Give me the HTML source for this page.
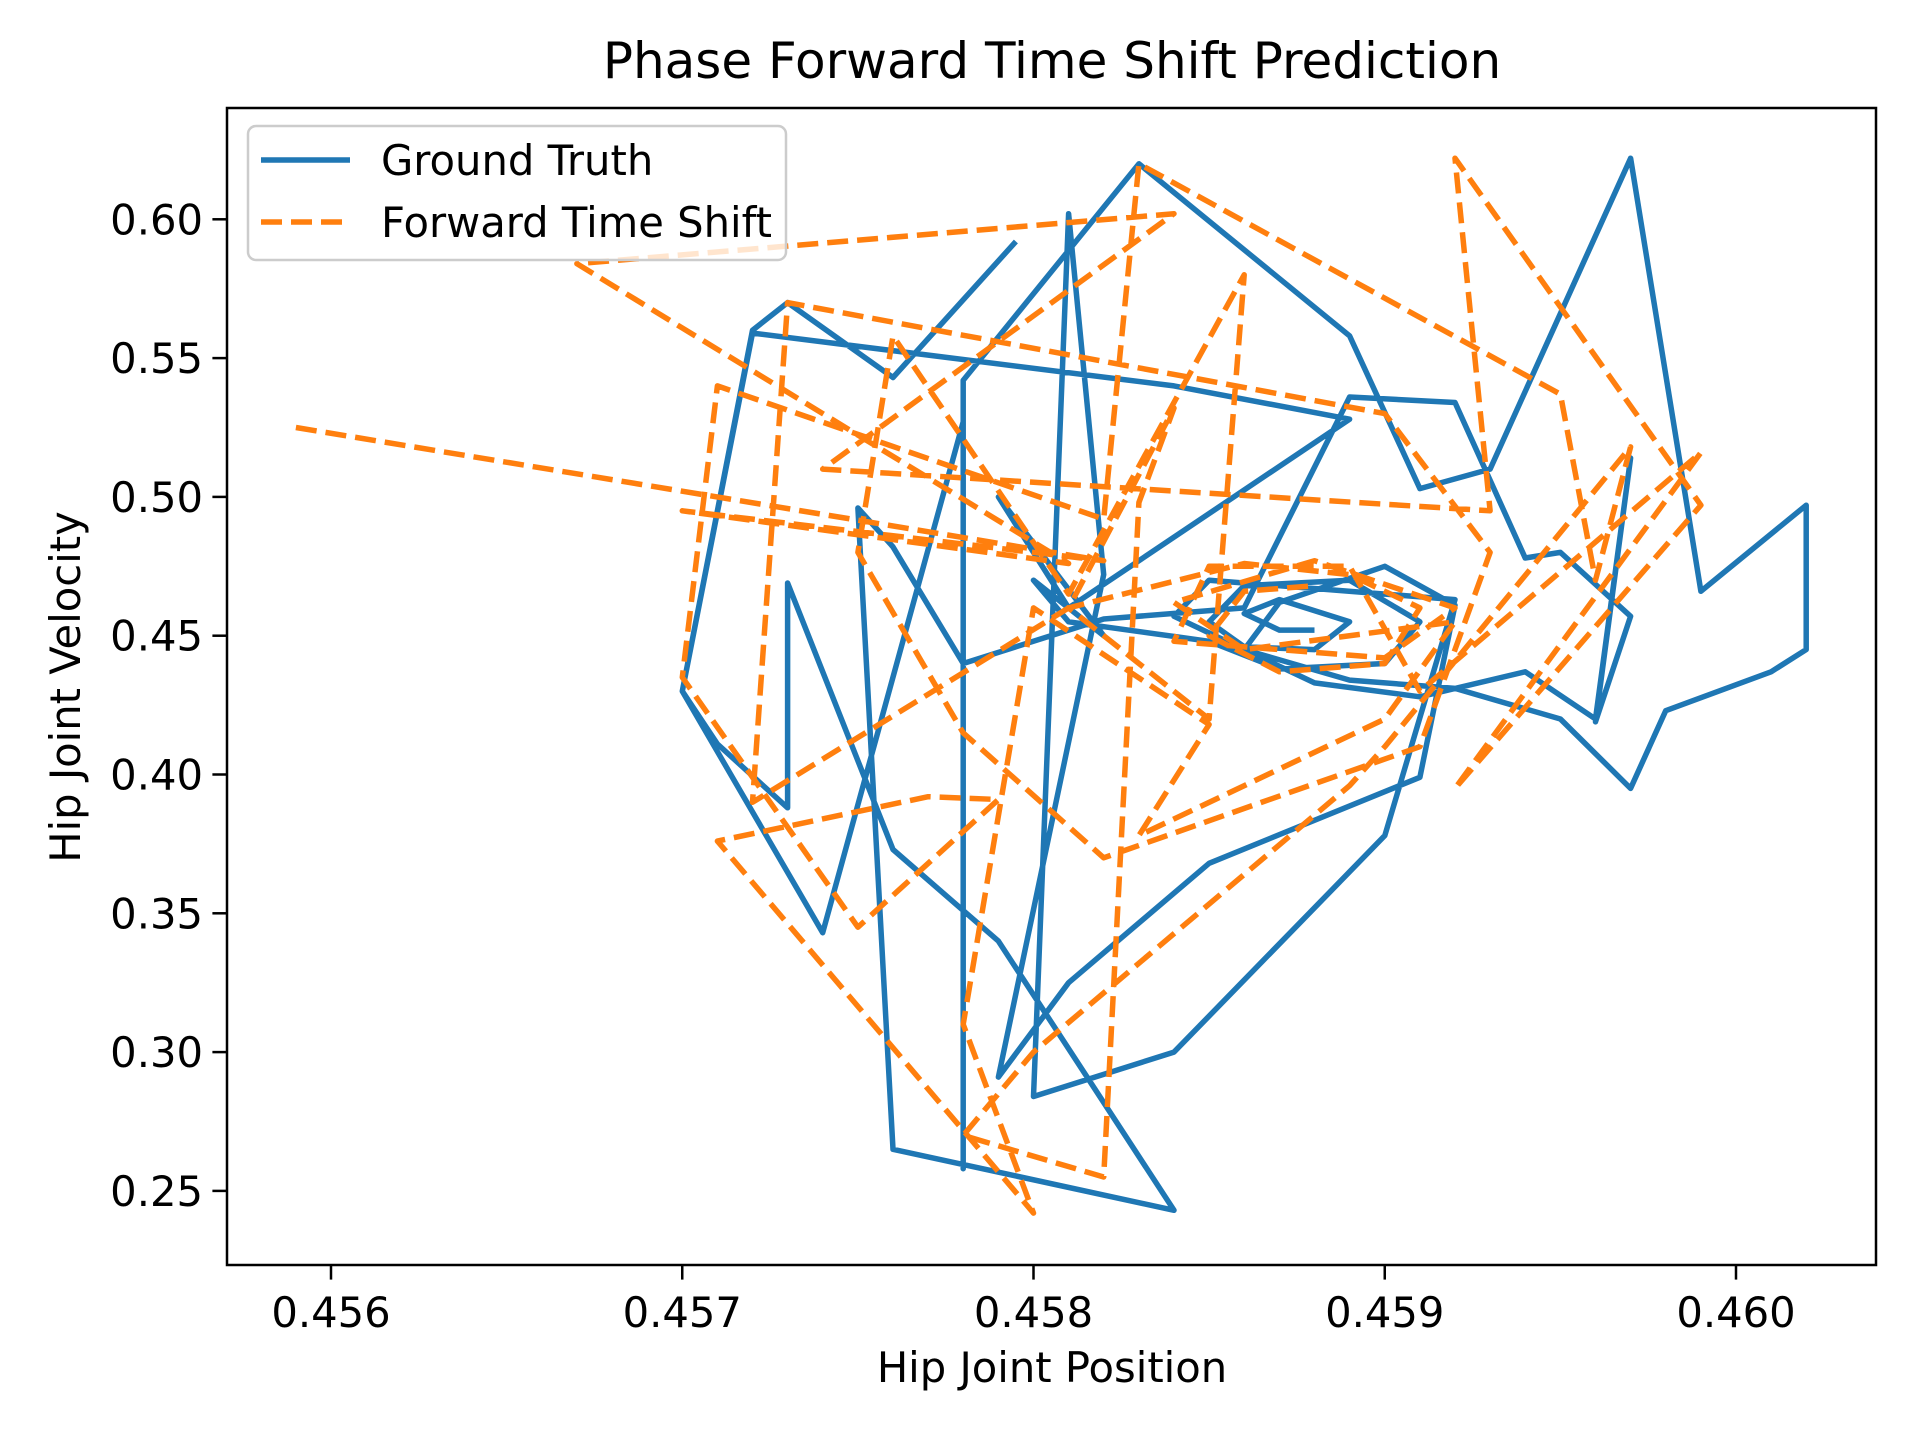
<!DOCTYPE html>
<html><head><meta charset="utf-8"><style>
html,body{margin:0;padding:0;background:#fff}
svg{display:block;font-family:"DejaVu Sans","Liberation Sans",sans-serif}
</style></head><body>
<svg id="chart" width="1920" height="1440" viewBox="0 0 1920 1440" xmlns="http://www.w3.org/2000/svg">
<text x="1052" y="78" font-size="50" text-anchor="middle">Phase Forward Time Shift Prediction</text>
<g id="plot"></g>
<rect x="227" y="108" width="1649" height="1157" fill="none" stroke="#000" stroke-width="2.5"/>
<g id="ticks"></g>
<text x="1052" y="1382" font-size="41.7" text-anchor="middle">Hip Joint Position</text>
<text x="80" y="687" font-size="41.7" text-anchor="middle" transform="rotate(-90 80 687)">Hip Joint Velocity</text>
<g>
<rect x="248" y="126" width="538" height="134" rx="8" fill="#fff" fill-opacity="0.8" stroke="#ccc" stroke-width="2.5"/>
<line x1="261" y1="160" x2="350" y2="160" stroke="#1f77b4" stroke-width="5.5"/>
<text x="381" y="175" font-size="41.7">Ground Truth</text>
<line x1="261" y1="222" x2="350" y2="222" stroke="#ff7f0e" stroke-width="5.5" stroke-dasharray="21,9"/>
<text x="381" y="237" font-size="41.7">Forward Time Shift</text>
</g>
</svg>
<script>
const xTicks=[0.456,0.457,0.458,0.459,0.460];
const xTickLabels=["0.456","0.457","0.458","0.459","0.460"];
const yTicks=[0.25,0.30,0.35,0.40,0.45,0.50,0.55,0.60];
const yTickLabels=["0.25","0.30","0.35","0.40","0.45","0.50","0.55","0.60"];
const truthX=[0.45795,0.4576,0.4573,0.4572,0.4570,0.4574,0.4578,0.4578,0.4578,0.4583,0.4589,0.4591,0.4593,0.4597,0.4599,0.4602,0.4602,0.4601,0.4598,0.4597,0.4595,0.4592,0.4589,0.4586,0.4587,0.4590,0.4592,0.4591,0.4585,0.4581,0.4579,0.4582,0.4581,0.4580,0.4584,0.4590,0.4592,0.4585,0.4584,0.4588,0.4591,0.4594,0.4596,0.4597,0.4596,0.4597,0.4595,0.4594,0.4592,0.4589,0.4586,0.4582,0.4578,0.4576,0.4575,0.4576,0.4584,0.4579,0.4576,0.4573,0.4573,0.4571,0.4570,0.4572,0.4584,0.4589,0.4581,0.4579,0.4582,0.4580,0.4581,0.4585,0.4587,0.4590,0.4591,0.4589,0.4586,0.4585,0.4586,0.4588,0.4589,0.4587,0.4586,0.4587,0.4588];
const truthY=[0.592,0.543,0.570,0.560,0.430,0.343,0.527,0.258,0.542,0.620,0.558,0.503,0.510,0.622,0.466,0.497,0.445,0.437,0.423,0.395,0.420,0.431,0.434,0.445,0.462,0.475,0.461,0.399,0.368,0.325,0.291,0.472,0.602,0.284,0.300,0.378,0.463,0.470,0.457,0.433,0.428,0.437,0.420,0.514,0.419,0.457,0.480,0.478,0.534,0.536,0.460,0.456,0.440,0.482,0.496,0.265,0.243,0.340,0.373,0.469,0.388,0.411,0.430,0.559,0.540,0.528,0.460,0.500,0.450,0.470,0.455,0.448,0.438,0.440,0.455,0.470,0.468,0.455,0.446,0.445,0.455,0.463,0.458,0.452,0.452];
const shiftX=[0.4559,0.4582,0.4570,0.4581,0.4567,0.4584,0.4574,0.4593,0.4592,0.4599,0.4592,0.4599,0.4591,0.4589,0.4585,0.4584,0.4590,0.4592,0.4588,0.4584,0.4586,0.4592,0.4590,0.4583,0.4585,0.4580,0.4578,0.4580,0.4571,0.4577,0.4579,0.4575,0.4570,0.4571,0.4582,0.4583,0.4595,0.4596,0.4597,0.4590,0.4589,0.4580,0.4578,0.4582,0.4583,0.4584,0.4581,0.4572,0.4573,0.4590,0.4593,0.4591,0.4582,0.4578,0.4575,0.4576,0.4581,0.4586,0.4585,0.4581,0.4586,0.4589,0.4591,0.4590,0.4587,0.4585,0.4586,0.4588];
const shiftY=[0.525,0.477,0.495,0.476,0.584,0.602,0.510,0.495,0.622,0.497,0.395,0.516,0.430,0.475,0.475,0.448,0.442,0.460,0.477,0.462,0.445,0.455,0.420,0.378,0.418,0.460,0.310,0.242,0.376,0.392,0.391,0.345,0.435,0.540,0.492,0.620,0.537,0.470,0.518,0.410,0.396,0.300,0.270,0.255,0.498,0.532,0.460,0.390,0.570,0.530,0.480,0.410,0.370,0.415,0.480,0.558,0.465,0.580,0.420,0.460,0.476,0.472,0.460,0.440,0.437,0.450,0.466,0.468];
const NS="http://www.w3.org/2000/svg";
const X0=227,X1=1876,Y0=108,Y1=1265;
function sx(v){return 331+(v-0.456)*351250;}
function sy(v){return 219.3+(0.60-v)*2776;}
const plot=document.getElementById('plot'),ticks=document.getElementById('ticks');
function mk(tag,attrs,parent){const e=document.createElementNS(NS,tag);for(const k in attrs)e.setAttribute(k,attrs[k]);parent.appendChild(e);return e;}
xTicks.forEach((t,i)=>{
  const l=mk('line',{x1:sx(t),x2:sx(t),y1:Y1,y2:Y1+14.6,stroke:'#000','stroke-width':2.5},ticks);
  
  
  const tx=mk('text',{x:sx(t),y:Y1+62,'font-size':41.7,'text-anchor':'middle'},ticks);
  tx.textContent=xTickLabels[i];
  
  
});
yTicks.forEach((t,i)=>{
  const l=mk('line',{x1:X0-14.6,x2:X0,y1:sy(t),y2:sy(t),stroke:'#000','stroke-width':2.5},ticks);
  
  
  const tx=mk('text',{x:X0-24,y:sy(t)+15,'font-size':41.7,'text-anchor':'end'},ticks);
  tx.textContent=yTickLabels[i];
  
  
});
function pts(xs,ys){return xs.map((x,i)=>sx(x).toFixed(1)+','+sy(ys[i]).toFixed(1)).join(' ');}
const gt=mk('polyline',{points:pts(truthX,truthY),fill:'none',stroke:'#1f77b4','stroke-width':5.5,'stroke-linejoin':'round'},plot);


const fs=mk('polyline',{points:pts(shiftX,shiftY),fill:'none',stroke:'#ff7f0e','stroke-width':5.5,'stroke-dasharray':'21,9','stroke-linejoin':'round'},plot);


</script>
</body></html>
